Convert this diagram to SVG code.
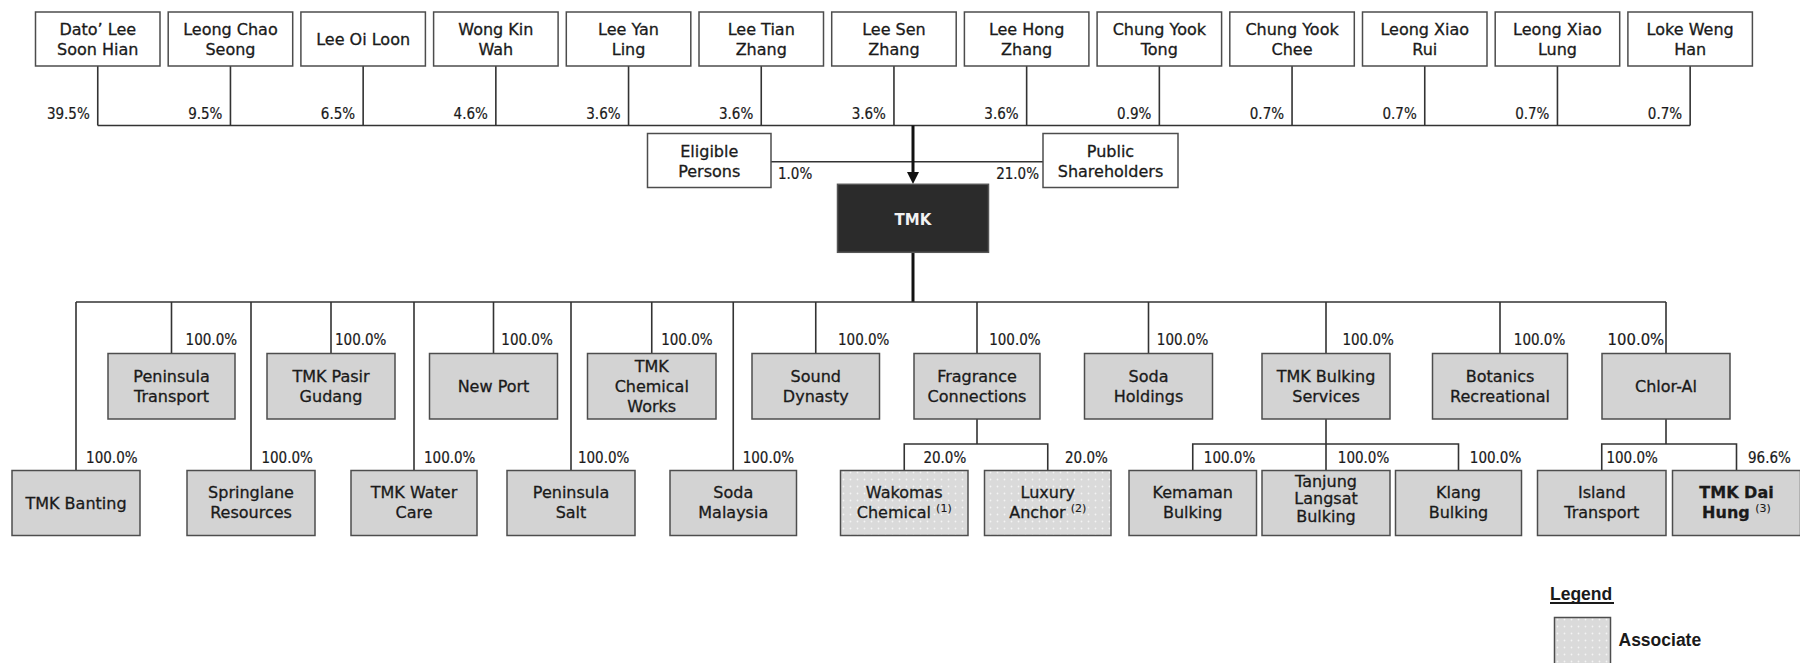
<svg xmlns="http://www.w3.org/2000/svg" width="1800" height="663" viewBox="0 0 1800 663">
<style>
.nm{font-family:"DejaVu Sans","Liberation Sans",sans-serif;font-size:16px;fill:#1a1a1a;stroke:#1a1a1a;stroke-width:0.3;text-anchor:middle}
.pct{font-family:"DejaVu Sans Condensed","DejaVu Sans",sans-serif;font-stretch:condensed;font-size:15px;fill:#1a1a1a;stroke:#1a1a1a;stroke-width:0.2}
.end{text-anchor:end}
.own{fill:#fff;stroke:#4d4d4d;stroke-width:1.5}
.sub{fill:#d3d3d3;stroke:#4d4d4d;stroke-width:1.5}
.asc{fill:url(#dots);stroke:#4d4d4d;stroke-width:1.5}
.ln{stroke:#333;stroke-width:1.6;fill:none}
.thick{stroke:#111;stroke-width:3;fill:none}
.sup{font-size:11px;stroke-width:0.1}
.leg{font-family:"Liberation Sans",sans-serif;font-weight:bold;font-size:17.5px;fill:#1a1a1a}
</style>
<defs>
<pattern id="dots" width="7" height="7" patternUnits="userSpaceOnUse">
<rect width="7" height="7" fill="#dadada"/>
<circle cx="3.5" cy="3.5" r="0.9" fill="#f4f4f4"/>
</pattern>
<marker id="arr" viewBox="0 0 12 12" markerWidth="12" markerHeight="12" refX="6" refY="6" orient="auto" markerUnits="userSpaceOnUse">
<path d="M0,0 L12,6 L0,12 z" fill="#111"/>
</marker>
</defs>

<g id="connectors">
<path class="ln" d="M97.75,66 V125.5 M230.45,66 V125.5 M363.15,66 V125.5 M495.85,66 V125.5 M628.55,66 V125.5 M761.25,66 V125.5 M893.95,66 V125.5 M1026.65,66 V125.5 M1159.35,66 V125.5 M1292.05,66 V125.5 M1424.75,66 V125.5 M1557.45,66 V125.5 M1690.15,66 V125.5"/>
<path class="ln" d="M97.75,125.5 H1690.15"/>
<path class="ln" d="M771,161.7 H1043"/>
<line class="thick" x1="913" y1="125.5" x2="913" y2="178" marker-end="url(#arr)"/>
<line class="thick" x1="913" y1="252.3" x2="913" y2="302"/>
<path class="ln" d="M76,302 H1666"/>
<path class="ln" d="M171.5,302 V353.5 M331,302 V353.5 M493.5,302 V353.5 M651.75,302 V353.5 M815.75,302 V353.5 M977,302 V353.5 M1148.5,302 V353.5 M1326,302 V353.5 M1500,302 V353.5 M1666,302 V353.5"/>
<path class="ln" d="M76,302 V470.5 M251,302 V470.5 M414,302 V470.5 M571,302 V470.5 M733.25,302 V470.5"/>
<path class="ln" d="M977,419 V444 M904.25,470.5 V444 H1047.75 V470.5"/>
<path class="ln" d="M1326,419 V470.5 M1192.75,470.5 V444 H1458.5 V470.5"/>
<path class="ln" d="M1666,419 V444 M1601.75,470.5 V444 H1736.5 V470.5"/>
</g>

<g id="percent-labels">
<text class="pct end" x="89.75" y="118.5">39.5%</text>
<text class="pct end" x="222.45" y="118.5">9.5%</text>
<text class="pct end" x="355.15" y="118.5">6.5%</text>
<text class="pct end" x="487.85" y="118.5">4.6%</text>
<text class="pct end" x="620.55" y="118.5">3.6%</text>
<text class="pct end" x="753.25" y="118.5">3.6%</text>
<text class="pct end" x="885.95" y="118.5">3.6%</text>
<text class="pct end" x="1018.65" y="118.5">3.6%</text>
<text class="pct end" x="1151.35" y="118.5">0.9%</text>
<text class="pct end" x="1284.05" y="118.5">0.7%</text>
<text class="pct end" x="1416.75" y="118.5">0.7%</text>
<text class="pct end" x="1549.45" y="118.5">0.7%</text>
<text class="pct end" x="1682.15" y="118.5">0.7%</text>
<text class="pct" x="778" y="178.5">1.0%</text>
<text class="pct end" x="1039" y="178.5">21.0%</text>
<text class="pct" x="185.6" y="345">100.0%</text>
<text class="pct" x="335" y="345">100.0%</text>
<text class="pct" x="501.3" y="345">100.0%</text>
<text class="pct" x="661.2" y="345">100.0%</text>
<text class="pct" x="838" y="345">100.0%</text>
<text class="pct" x="989.2" y="345">100.0%</text>
<text class="pct" x="1156.8" y="345">100.0%</text>
<text class="pct" x="1342.4" y="345">100.0%</text>
<text class="pct" x="1513.8" y="345">100.0%</text>
<text class="pct" x="1607.6" y="345" style="font-size:16.5px">100.0%</text>
<text class="pct" x="86.1" y="463.3">100.0%</text>
<text class="pct" x="261.4" y="463.3">100.0%</text>
<text class="pct" x="424" y="463.3">100.0%</text>
<text class="pct" x="577.9" y="463.3">100.0%</text>
<text class="pct" x="742.7" y="463.3">100.0%</text>
<text class="pct" x="923.4" y="463.3">20.0%</text>
<text class="pct" x="1065" y="463.3">20.0%</text>
<text class="pct" x="1203.8" y="463.3">100.0%</text>
<text class="pct" x="1337.8" y="463.3">100.0%</text>
<text class="pct" x="1469.8" y="463.3">100.0%</text>
<text class="pct" x="1606.4" y="463.3">100.0%</text>
<text class="pct" x="1748" y="463.3">96.6%</text>
</g>

<g id="n-dato-lee"><rect class="own" x="35.5" y="12" width="124.5" height="54"/><text class="nm" x="97.75" y="34.5">Dato’ Lee</text><text class="nm" x="97.75" y="54.5">Soon Hian</text></g>
<g id="n-leong-chao-seong"><rect class="own" x="168.2" y="12" width="124.5" height="54"/><text class="nm" x="230.45" y="34.5">Leong Chao</text><text class="nm" x="230.45" y="54.5">Seong</text></g>
<g id="n-lee-oi-loon"><rect class="own" x="300.9" y="12" width="124.5" height="54"/><text class="nm" x="363.15" y="44.5">Lee Oi Loon</text></g>
<g id="n-wong-kin-wah"><rect class="own" x="433.6" y="12" width="124.5" height="54"/><text class="nm" x="495.85" y="34.5">Wong Kin</text><text class="nm" x="495.85" y="54.5">Wah</text></g>
<g id="n-lee-yan-ling"><rect class="own" x="566.3" y="12" width="124.5" height="54"/><text class="nm" x="628.55" y="34.5">Lee Yan</text><text class="nm" x="628.55" y="54.5">Ling</text></g>
<g id="n-lee-tian-zhang"><rect class="own" x="699" y="12" width="124.5" height="54"/><text class="nm" x="761.25" y="34.5">Lee Tian</text><text class="nm" x="761.25" y="54.5">Zhang</text></g>
<g id="n-lee-sen-zhang"><rect class="own" x="831.7" y="12" width="124.5" height="54"/><text class="nm" x="893.95" y="34.5">Lee Sen</text><text class="nm" x="893.95" y="54.5">Zhang</text></g>
<g id="n-lee-hong-zhang"><rect class="own" x="964.4" y="12" width="124.5" height="54"/><text class="nm" x="1026.65" y="34.5">Lee Hong</text><text class="nm" x="1026.65" y="54.5">Zhang</text></g>
<g id="n-chung-yook-tong"><rect class="own" x="1097.1" y="12" width="124.5" height="54"/><text class="nm" x="1159.35" y="34.5">Chung Yook</text><text class="nm" x="1159.35" y="54.5">Tong</text></g>
<g id="n-chung-yook-chee"><rect class="own" x="1229.8" y="12" width="124.5" height="54"/><text class="nm" x="1292.05" y="34.5">Chung Yook</text><text class="nm" x="1292.05" y="54.5">Chee</text></g>
<g id="n-leong-xiao-rui"><rect class="own" x="1362.5" y="12" width="124.5" height="54"/><text class="nm" x="1424.75" y="34.5">Leong Xiao</text><text class="nm" x="1424.75" y="54.5">Rui</text></g>
<g id="n-leong-xiao-lung"><rect class="own" x="1495.2" y="12" width="124.5" height="54"/><text class="nm" x="1557.45" y="34.5">Leong Xiao</text><text class="nm" x="1557.45" y="54.5">Lung</text></g>
<g id="n-loke-weng-han"><rect class="own" x="1627.9" y="12" width="124.5" height="54"/><text class="nm" x="1690.15" y="34.5">Loke Weng</text><text class="nm" x="1690.15" y="54.5">Han</text></g>

<g id="n-eligible"><rect class="own" x="647.5" y="133.5" width="123.5" height="54"/><text class="nm" x="709.25" y="157">Eligible</text><text class="nm" x="709.25" y="177">Persons</text></g>
<g id="n-public"><rect class="own" x="1043" y="133.5" width="135" height="54"/><text class="nm" x="1110.5" y="157">Public</text><text class="nm" x="1110.5" y="177">Shareholders</text></g>

<g id="n-tmk"><rect x="837.5" y="184.3" width="151" height="68" fill="#2b2b2b" stroke="#555" stroke-width="1.5"/><text x="913" y="224.5" text-anchor="middle" font-family="DejaVu Sans, sans-serif" font-weight="bold" font-size="15" fill="#f2f2f2">TMK</text></g>

<g id="n-peninsula-transport"><rect class="sub" x="108" y="353.5" width="127" height="65.5"/><text class="nm" x="171.5" y="382">Peninsula</text><text class="nm" x="171.5" y="402">Transport</text></g>
<g id="n-tmk-pasir-gudang"><rect class="sub" x="267" y="353.5" width="128" height="65.5"/><text class="nm" x="331" y="382">TMK Pasir</text><text class="nm" x="331" y="402">Gudang</text></g>
<g id="n-new-port"><rect class="sub" x="429.5" y="353.5" width="128" height="65.5"/><text class="nm" x="493.5" y="392">New Port</text></g>
<g id="n-tmk-chemical-works"><rect class="sub" x="587.5" y="353.5" width="128.5" height="65.5"/><text class="nm" x="651.75" y="371.5">TMK</text><text class="nm" x="651.75" y="391.5">Chemical</text><text class="nm" x="651.75" y="411.5">Works</text></g>
<g id="n-sound-dynasty"><rect class="sub" x="752" y="353.5" width="127.5" height="65.5"/><text class="nm" x="815.75" y="382">Sound</text><text class="nm" x="815.75" y="402">Dynasty</text></g>
<g id="n-fragrance-connections"><rect class="sub" x="914" y="353.5" width="126" height="65.5"/><text class="nm" x="977" y="382">Fragrance</text><text class="nm" x="977" y="402">Connections</text></g>
<g id="n-soda-holdings"><rect class="sub" x="1084.5" y="353.5" width="128" height="65.5"/><text class="nm" x="1148.5" y="382">Soda</text><text class="nm" x="1148.5" y="402">Holdings</text></g>
<g id="n-tmk-bulking-services"><rect class="sub" x="1262" y="353.5" width="128" height="65.5"/><text class="nm" x="1326" y="382">TMK Bulking</text><text class="nm" x="1326" y="402">Services</text></g>
<g id="n-botanics-recreational"><rect class="sub" x="1432.5" y="353.5" width="135" height="65.5"/><text class="nm" x="1500" y="382">Botanics</text><text class="nm" x="1500" y="402">Recreational</text></g>
<g id="n-chlor-al"><rect class="sub" x="1602" y="353.5" width="128" height="65.5"/><text class="nm" x="1666" y="392">Chlor-Al</text></g>

<g id="n-tmk-banting"><rect class="sub" x="12" y="470.5" width="128" height="65"/><text class="nm" x="76" y="509">TMK Banting</text></g>
<g id="n-springlane-resources"><rect class="sub" x="187" y="470.5" width="128" height="65"/><text class="nm" x="251" y="498">Springlane</text><text class="nm" x="251" y="518">Resources</text></g>
<g id="n-tmk-water-care"><rect class="sub" x="351" y="470.5" width="126" height="65"/><text class="nm" x="414" y="498">TMK Water</text><text class="nm" x="414" y="518">Care</text></g>
<g id="n-peninsula-salt"><rect class="sub" x="507" y="470.5" width="128" height="65"/><text class="nm" x="571" y="498">Peninsula</text><text class="nm" x="571" y="518">Salt</text></g>
<g id="n-soda-malaysia"><rect class="sub" x="670" y="470.5" width="126.5" height="65"/><text class="nm" x="733.25" y="498">Soda</text><text class="nm" x="733.25" y="518">Malaysia</text></g>
<g id="n-wakomas-chemical"><rect class="asc" x="840.5" y="470.5" width="127.5" height="65"/><text class="nm" x="904.25" y="498">Wakomas</text><text class="nm" x="904.25" y="518">Chemical <tspan class="sup" dy="-6">(1)</tspan></text></g>
<g id="n-luxury-anchor"><rect class="asc" x="984.5" y="470.5" width="126.5" height="65"/><text class="nm" x="1047.75" y="498">Luxury</text><text class="nm" x="1047.75" y="518">Anchor <tspan class="sup" dy="-6">(2)</tspan></text></g>
<g id="n-kemaman-bulking"><rect class="sub" x="1129" y="470.5" width="127.5" height="65"/><text class="nm" x="1192.75" y="498">Kemaman</text><text class="nm" x="1192.75" y="518">Bulking</text></g>
<g id="n-tanjung-langsat-bulking"><rect class="sub" x="1262" y="470.5" width="128" height="65"/><text class="nm" x="1326" y="486.5">Tanjung</text><text class="nm" x="1326" y="504">Langsat</text><text class="nm" x="1326" y="522">Bulking</text></g>
<g id="n-klang-bulking"><rect class="sub" x="1395.5" y="470.5" width="126" height="65"/><text class="nm" x="1458.5" y="498">Klang</text><text class="nm" x="1458.5" y="518">Bulking</text></g>
<g id="n-island-transport"><rect class="sub" x="1537.5" y="470.5" width="128.5" height="65"/><text class="nm" x="1601.75" y="498">Island</text><text class="nm" x="1601.75" y="518">Transport</text></g>
<g id="n-tmk-dai-hung"><rect class="sub" x="1672.5" y="470.5" width="128" height="65"/><text class="nm" x="1736.5" y="498" font-weight="bold">TMK Dai</text><text class="nm" x="1736.5" y="518" font-weight="bold">Hung <tspan class="sup" dy="-6" font-weight="normal">(3)</tspan></text></g>

<g id="legend">
<text class="leg" x="1550" y="599.5">Legend</text>
<line x1="1550" y1="603" x2="1614" y2="603" stroke="#1a1a1a" stroke-width="1.8"/>
<rect class="asc" x="1554.5" y="617.5" width="56" height="50"/>
<text class="leg" x="1618.5" y="646">Associate</text>
</g>
</svg>
